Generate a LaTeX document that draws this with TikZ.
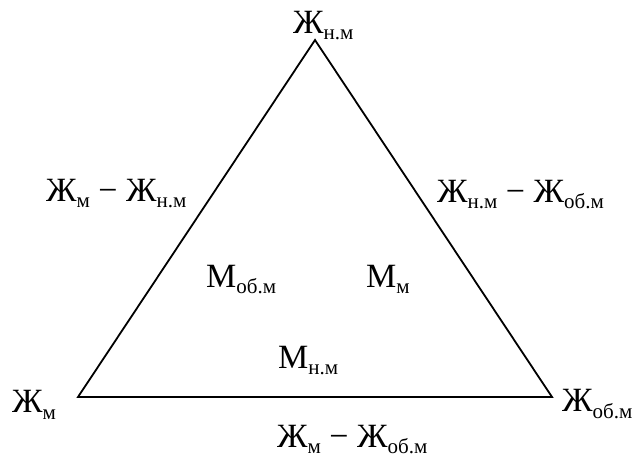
\documentclass[tikz,border=0pt]{standalone}
\usepackage{fontspec}
\setmainfont{Liberation Serif}
\usepackage{xcolor}
\usetikzlibrary{positioning}
\definecolor{edgeblack}{RGB}{0,0,0}
\newcommand{\subidx}[1]{\raisebox{-6pt}{\fontsize{21}{21}\selectfont #1}}
\newcommand{\Zh}[1]{Ж\subidx{#1}}
\newcommand{\Mm}[1]{М\subidx{#1}}
\tikzset{
  edge/.style={draw=edgeblack,line width=1.8pt,line join=miter},
  vertexlabel/.style={inner sep=0pt,anchor=base west,font=\fontsize{34}{34}\selectfont},
  sidelabel/.style={inner sep=0pt,anchor=base west,font=\fontsize{34}{34}\selectfont},
  arealabel/.style={inner sep=0pt,anchor=base west,font=\fontsize{34}{34}\selectfont}
}
\begin{document}
\begin{tikzpicture}[x=1pt,y=-1pt]
  \useasboundingbox (0,0) rectangle (638,457);
  % corners of the triangle
  \coordinate (apex) at (315,40);
  \coordinate (lcorner) at (78,397);
  \coordinate (rcorner) at (552,397);
  \draw[edge] (lcorner) -- (apex) -- (rcorner) -- cycle;
  % vertices
  \node[vertexlabel] (ztop) at (293,34) {\Zh{н.м}};
  \node[vertexlabel] (zleft) at (12,413) {\Zh{м}};
  \node[vertexlabel] (zright) at (562,412) {\Zh{об.м}};
  % sides
  \node[sidelabel] (sleft) at (46,202) {\Zh{м} − \Zh{н.м}};
  \node[sidelabel] (sright) at (437,203) {\Zh{н.м} − \Zh{об.м}};
  \node[sidelabel] (sbottom) at (277,447) {\Zh{м} − \Zh{об.м}};
  % inside
  \node[arealabel] (mleft) at (206,288) {\Mm{об.м}};
  \node[arealabel] (mright) at (366,288) {\Mm{м}};
  \node[arealabel] (mbottom) at (278,369) {\Mm{н.м}};
\end{tikzpicture}
\end{document}
